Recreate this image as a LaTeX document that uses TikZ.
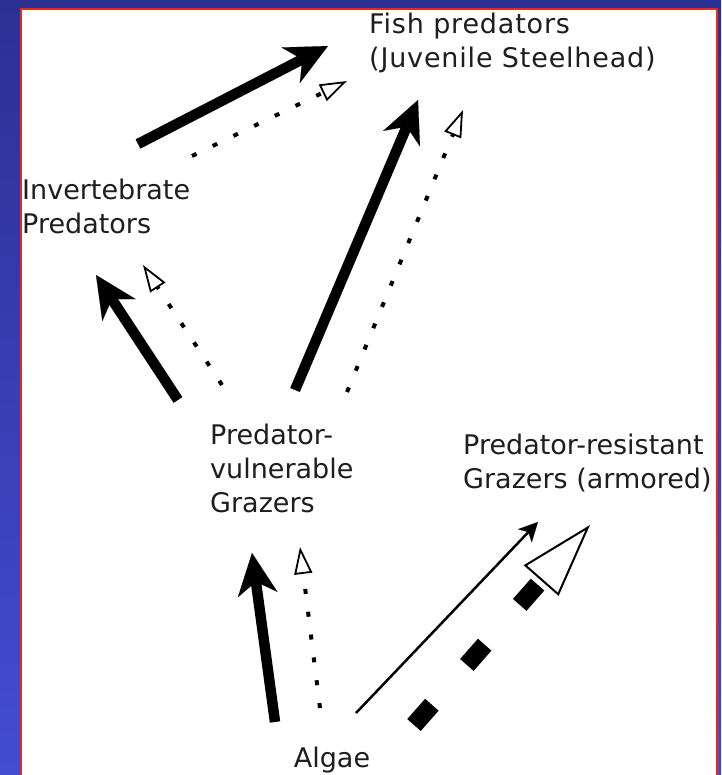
\documentclass[tikz,border=0pt]{standalone}
\usepackage{fontspec}
\setmainfont{DejaVu Sans}
\usetikzlibrary{arrows.meta,calc}
\definecolor{bgtop}{RGB}{44,48,148}
\definecolor{bgbot}{RGB}{68,76,210}
\definecolor{framered}{RGB}{232,40,24}
\definecolor{ink}{RGB}{30,30,30}
\tikzset{
  lbl/.style={inner sep=0pt, anchor=north west, align=left, text=ink,
    font=\fontsize{27}{34}\selectfont},
  strong/.style={line width=10.5pt,
    -{Stealth[length=42pt,width=40pt,inset=13pt,line width=0.1pt]}},
  weak/.style={line width=4pt, dash pattern=on 5pt off 18pt,
    -{Triangle[open,length=27pt,width=18pt,line width=1.8pt]}},
  slim/.style={line width=2.5pt,
    -{Stealth[length=19pt,width=19pt,inset=5pt,line width=0.1pt]}},
  armored/.style={line width=18pt, dash pattern=on 27pt off 53pt,
    -{Triangle[length=74pt,width=46pt,fill=white,line width=2pt]}}
}
\begin{document}
\begin{tikzpicture}[x=1pt,y=-1pt]
  \useasboundingbox (0,0) rectangle (721,775);
  % slide background and white panel with red frame
  \shade[top color=bgtop, bottom color=bgbot] (0,0) rectangle (721,775);
  \fill[white] (21,9) rectangle (717,775);
  \draw[framered, line width=2pt] (21,776) -- (21,9) -- (717,9) -- (717,776);

  % trophic levels
  \node[lbl, font=\fontsize{27}{34}\selectfont\addfontfeatures{LetterSpace=3}]
    (fish) at (369,13) {Fish predators\\(Juvenile Steelhead)};
  \node[lbl] (inv) at (22,179) {Invertebrate\\Predators};
  \node[lbl] (pvg) at (210,424) {Predator-\\vulnerable\\Grazers};
  \node[lbl] (prg) at (463,434) {Predator-resistant\\Grazers (armored)};
  \node[lbl, anchor=base] (algae) at (332,767) {Algae};

  % arrow end points
  \coordinate (invfish-s) at (138,144);  \coordinate (invfish-e) at (328,46);
  \coordinate (invfish2-s) at (192,156); \coordinate (invfish2-e) at (347,81);
  \coordinate (pvinv-s) at (178,400);    \coordinate (pvinv-e) at (96,275);
  \coordinate (pvinv2-s) at (222,385);   \coordinate (pvinv2-e) at (143,265);
  \coordinate (pvfish-s) at (295,390);   \coordinate (pvfish-e) at (418,100);
  \coordinate (pvfish2-s) at (347,392);  \coordinate (pvfish2-e) at (463,110);
  \coordinate (algpv-s) at (275,722);    \coordinate (algpv-e) at (252,553);
  \coordinate (algpv2-s) at (320,708);   \coordinate (algpv2-e) at (300,547);
  \coordinate (algpr-s) at (356,713);    \coordinate (algpr-e) at (538,522);
  \coordinate (algpr2-s) at (414,725);   \coordinate (algpr2-e) at (590,525);

  % connectors
  \draw[strong] (invfish-s) -- (invfish-e);
  \draw[weak] (invfish2-s) -- (invfish2-e);
  \draw[strong] (pvinv-s) -- (pvinv-e);
  \draw[weak] (pvinv2-s) -- (pvinv2-e);
  \draw[strong] (pvfish-s) -- (pvfish-e);
  \draw[weak] (pvfish2-s) -- (pvfish2-e);
  \draw[strong] (algpv-s) -- (algpv-e);
  \draw[weak] (algpv2-s) -- (algpv2-e);
  \draw[slim] (algpr-s) -- (algpr-e);
  \draw[armored] (algpr2-s) -- (algpr2-e);
\end{tikzpicture}
\end{document}
